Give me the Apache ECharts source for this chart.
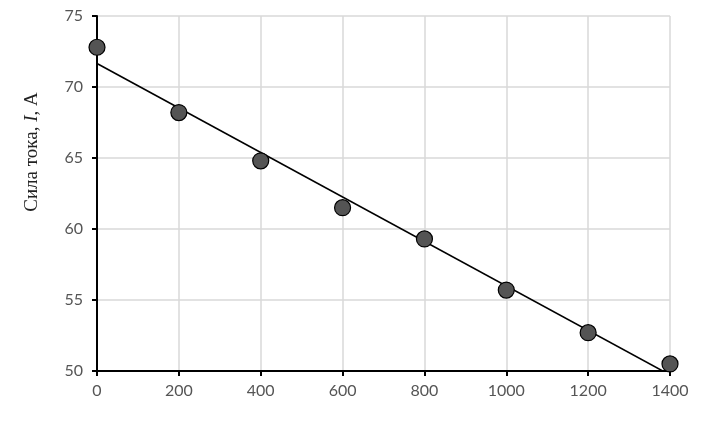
<!DOCTYPE html>
<html><head><meta charset="utf-8">
<script src="https://cdn.jsdelivr.net/npm/echarts@6/dist/echarts.min.js"></script>
<style>html,body{margin:0;padding:0;background:#fff}#c{width:709px;height:423px}</style>
</head><body><div id="c"></div>
<script>
const xValues = [0, 200, 400, 600, 800, 1000, 1200, 1400];
const currentValues = [72.8, 68.2, 64.8, 61.5, 59.3, 55.7, 52.7, 50.5];
const xTicks = [0, 1400, 200];
const yTicks = [50, 75, 5];

// least-squares trend line through the measured points
const n = xValues.length;
const mx = xValues.reduce((a,b)=>a+b,0)/n;
const my = currentValues.reduce((a,b)=>a+b,0)/n;
let sxy=0, sxx=0;
for (let i=0;i<n;i++){ sxy+=(xValues[i]-mx)*(currentValues[i]-my); sxx+=(xValues[i]-mx)**2; }
const k = sxy/sxx, b0 = my - k*mx;
const trend = [[xTicks[0], b0 + k*xTicks[0]], [xTicks[1], b0 + k*xTicks[1]]];

const chart = echarts.init(document.getElementById('c'));
const lblFont = 'Lato, "Open Sans", sans-serif';
chart.setOption({
  animation:false,
  grid:{left:97,right:39,top:16,bottom:52},
  xAxis:{type:'value',min:xTicks[0],max:xTicks[1],interval:xTicks[2],
    axisLine:{lineStyle:{color:'#000',width:2}},
    axisTick:{show:true,length:5,lineStyle:{color:'#000',width:2}},
    axisLabel:{color:'#555',fontSize:16,fontFamily:lblFont,margin:12,formatter:v=>String(v)},
    splitLine:{show:true,lineStyle:{color:'#d9d9d9',width:1.5}}},
  yAxis:{type:'value',min:yTicks[0],max:yTicks[1],interval:yTicks[2],
    axisLine:{show:true,lineStyle:{color:'#000',width:2}},
    axisTick:{show:true,length:5,lineStyle:{color:'#000',width:2}},
    axisLabel:{color:'#555',fontSize:16,fontFamily:lblFont,margin:14,formatter:v=>String(v)},
    splitLine:{show:true,lineStyle:{color:'#d9d9d9',width:1.5}}},
  graphic:[{type:'text',x:32,y:152,rotation:Math.PI/2,
    style:{text:'{a|Сила тока, }{i|I}{a|, A}',align:'center',verticalAlign:'middle',
      font:'19px "Liberation Serif", serif',fill:'#222',
      rich:{a:{font:'19px "Liberation Serif", serif',fill:'#222'},
            i:{font:'italic 19px "Liberation Serif", serif',fill:'#222'}}}}],
  series:[
    {type:'line',data:trend,symbol:'none',clip:true,lineStyle:{color:'#000',width:1.6},z:2},
    {type:'scatter',data:xValues.map((x,i)=>[x,currentValues[i]]),symbolSize:16,
     itemStyle:{color:'#545454',borderColor:'#000',borderWidth:1.2,opacity:1},z:3}
  ]
});
</script></body></html>
